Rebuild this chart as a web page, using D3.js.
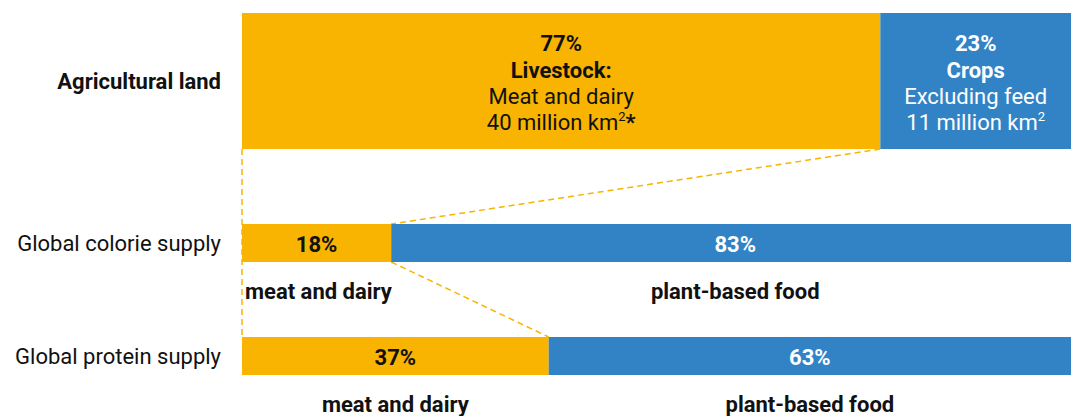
<!DOCTYPE html>
<html>
<head>
<meta charset="utf-8">
<script src="https://cdn.jsdelivr.net/npm/d3@7"></script>
<style>
  body { margin: 0; background: #fff; }
  text { font-family: "Roboto", "DejaVu Sans Condensed", sans-serif; }
</style>
</head>
<body>
<svg></svg>
<script>
var screen = {width: 1071, height: 416};

// data
var categories = ["Agricultural land", "Global colorie supply", "Global protein supply"];
var animalShare = [77, 18, 37];
var plantShare = [23, 83, 63];
var animalNames = ["Livestock:", "meat and dairy", "meat and dairy"];
var plantNames = ["Crops", "plant-based food", "plant-based food"];
var landAnimalLines = ["Meat and dairy", "40 million km"];
var landPlantLines = ["Excluding feed", "11 million km"];

var orange = "#f8b400";
var blue = "#3183c6";

var svg = d3.select("svg")
    .attr("width", screen.width)
    .attr("height", screen.height);

var xScale = d3.scaleLinear()
    .domain([0, 100])
    .range([242, 1071]);

var rowTop = d3.scaleOrdinal()
    .domain(categories)
    .range([13, 224, 337]);

var rowHeight = d3.scaleOrdinal()
    .domain(categories)
    .range([136, 38, 38]);

var rows = categories.map(function(c, i)
{
    return {name: c, animal: animalShare[i], plant: plantShare[i], index: i};
});

// dashed connectors
var connectors = [
    [[xScale(0), rowTop(categories[0]) + rowHeight(categories[0])], [xScale(0), rowTop(categories[2])]],
    [[xScale(animalShare[0]), rowTop(categories[0]) + rowHeight(categories[0])], [xScale(animalShare[1]), rowTop(categories[1])]],
    [[xScale(animalShare[1]), rowTop(categories[1]) + rowHeight(categories[1])], [xScale(animalShare[2]), rowTop(categories[2])]]
];

svg.append("g")
    .selectAll("path")
    .data(connectors)
    .enter()
    .append("path")
    .attr("d", d3.line())
    .attr("fill", "none")
    .attr("stroke", orange)
    .attr("stroke-width", 1.5)
    .attr("stroke-dasharray", "6,4");

var bars = svg.append("g");

bars.selectAll("rect.animal")
    .data(rows)
    .enter()
    .append("rect")
    .attr("class", "animal")
    .attr("x", xScale(0))
    .attr("y", function(d){return rowTop(d.name);})
    .attr("width", function(d){return xScale(d.animal) - xScale(0);})
    .attr("height", function(d){return rowHeight(d.name);})
    .attr("fill", orange);

bars.selectAll("rect.plant")
    .data(rows)
    .enter()
    .append("rect")
    .attr("class", "plant")
    .attr("x", function(d){return xScale(d.animal);})
    .attr("y", function(d){return rowTop(d.name);})
    .attr("width", function(d){return xScale(d.animal + d.plant) - xScale(d.animal);})
    .attr("height", function(d){return rowHeight(d.name);})
    .attr("fill", blue);

// row labels
svg.append("g")
    .selectAll("text")
    .data(rows)
    .enter()
    .append("text")
    .attr("x", 221)
    .attr("y", function(d){return rowTop(d.name) + rowHeight(d.name) / 2 + 8;})
    .attr("text-anchor", "end")
    .attr("font-size", 22)
    .attr("font-weight", function(d){return d.index == 0 ? "bold" : "normal";})
    .attr("fill", "#111")
    .text(function(d){return d.name;});

// agricultural land labels
var land = rows[0];
var animalMid = (xScale(0) + xScale(land.animal)) / 2;
var plantMid = (xScale(land.animal) + xScale(land.animal + land.plant)) / 2;
var lineY = [51, 78, 104, 130];

var addBlock = function(cx, color, pct, title, lines, star)
{
    var g = svg.append("g")
        .attr("fill", color)
        .attr("font-size", 22)
        .attr("text-anchor", "middle");
    g.append("text").attr("x", cx).attr("y", lineY[0]).attr("font-weight", "bold").text(pct + "%");
    g.append("text").attr("x", cx).attr("y", lineY[1]).attr("font-weight", "bold").text(title);
    g.append("text").attr("x", cx).attr("y", lineY[2]).text(lines[0]);
    var t = g.append("text").attr("x", cx).attr("y", lineY[3]);
    t.append("tspan").text(lines[1]);
    t.append("tspan").attr("font-size", 13).attr("dy", -9).text("2");
    if (star)
    {
        t.append("tspan").attr("font-weight", "bold").attr("dy", 9).text("*");
    }
};

addBlock(animalMid, "#111", land.animal, animalNames[0], landAnimalLines, true);
addBlock(plantMid, "#fff", land.plant, plantNames[0], landPlantLines, false);

// supply rows
var supply = rows.slice(1);

svg.append("g")
    .selectAll("text")
    .data(supply)
    .enter()
    .append("text")
    .attr("x", function(d){return (xScale(0) + xScale(d.animal)) / 2;})
    .attr("y", function(d){return rowTop(d.name) + 28;})
    .attr("text-anchor", "middle")
    .attr("font-size", 22)
    .attr("font-weight", "bold")
    .attr("fill", "#111")
    .text(function(d){return d.animal + "%";});

svg.append("g")
    .selectAll("text")
    .data(supply)
    .enter()
    .append("text")
    .attr("x", function(d){return (xScale(d.animal) + xScale(d.animal + d.plant)) / 2;})
    .attr("y", function(d){return rowTop(d.name) + 28;})
    .attr("text-anchor", "middle")
    .attr("font-size", 22)
    .attr("font-weight", "bold")
    .attr("fill", "#fff")
    .text(function(d){return d.plant + "%";});

// names under supply bars
svg.append("g")
    .selectAll("text")
    .data(supply)
    .enter()
    .append("text")
    .attr("x", function(d){return d.index == 1 ? xScale(0) + 3 : (xScale(0) + xScale(d.animal)) / 2;})
    .attr("y", function(d){return rowTop(d.name) + rowHeight(d.name) + 37;})
    .attr("text-anchor", function(d){return d.index == 1 ? "start" : "middle";})
    .attr("font-size", 22)
    .attr("font-weight", "bold")
    .attr("fill", "#111")
    .text(function(d){return animalNames[d.index];});

svg.append("g")
    .selectAll("text")
    .data(supply)
    .enter()
    .append("text")
    .attr("x", function(d){return (xScale(d.animal) + xScale(d.animal + d.plant)) / 2;})
    .attr("y", function(d){return rowTop(d.name) + rowHeight(d.name) + 37;})
    .attr("text-anchor", "middle")
    .attr("font-size", 22)
    .attr("font-weight", "bold")
    .attr("fill", "#111")
    .text(function(d){return plantNames[d.index];});
</script>
</body>
</html>
